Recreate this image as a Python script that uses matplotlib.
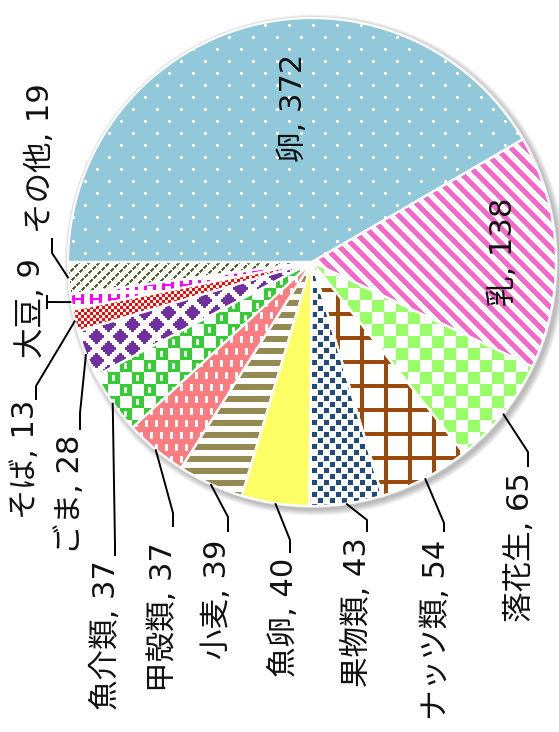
import numpy as np
import matplotlib
matplotlib.use("Agg")
import matplotlib.pyplot as plt
from matplotlib.patches import Circle
from matplotlib.colors import to_rgb

# Latin digits from DejaVu, kana/kanji from Noto Sans CJK JP
plt.rcParams["font.family"] = ["DejaVu Sans", "Noto Sans CJK JP"]

# allergen categories and case counts
categories = ["卵", "乳", "落花生", "ナッツ類", "果物類", "魚卵", "小麦",
              "甲殻類", "魚介類", "ごま", "そば", "大豆", "その他"]
counts = [372, 138, 65, 54, 43, 40, 39, 37, 37, 28, 13, 9, 19]

W, H = 559, 732
CX, CY, R = 312, 262, 244
FS = 22

fig = plt.figure(figsize=(W / 100, H / 100), dpi=100)
ax = fig.add_axes([0, 0, 1, 1])

# soft drop shadow and rim behind the pie
for k in range(8):
    ax.add_patch(Circle((CX + 3, CY + 3), R + 1 + k * 0.8, facecolor="black",
                        edgecolor="none", alpha=0.035, zorder=0))
ax.add_patch(Circle((CX, CY), R + 1, facecolor="white", edgecolor="#DADADA",
                    linewidth=1.2, zorder=0.5))

wedges, _ = ax.pie(counts, center=(CX, CY), radius=R, startangle=180,
                   counterclock=True,
                   wedgeprops=dict(edgecolor="white", linewidth=1.6))

# fill patterns, built on the pixel grid (x right, y down)
Y, X = np.mgrid[0:H, 0:W]


def paint(mask, fg, bg="white"):
    fg, bg = np.array(to_rgb(fg)), np.array(to_rgb(bg))
    return np.where(mask[..., None], fg, bg)


def diamonds():
    m = np.zeros_like(X, dtype=bool)
    for ox, oy in ((0, 0), (12, 12)):
        dx = np.abs(((X - ox + 12) % 24) - 12)
        dy = np.abs(((Y - oy + 12) % 24) - 12)
        m |= (dx // 2 + dy // 2) <= 3
    return m


def h_marks():
    lx, ly = X % 18, Y % 14
    bars = ((lx < 3) | ((lx >= 9) & (lx < 12))) & (ly < 10)
    cross = (ly >= 4) & (ly < 6) & (lx < 12)
    return bars | cross


def seafood():
    green = ((X // 12 + Y // 12) % 2) == 0
    lx, ly = X % 12, Y % 12
    notch = green & (lx >= 4) & (lx < 7) & (ly >= 3) & (ly < 9)
    return green & ~notch


patterns = [
    paint(((Y % 12) < 3) & (((X + 12 * ((Y // 12) % 2)) % 24) < 3), "white", "#92C9DA"),
    paint(((X - Y) % 15) < 7, "#FF66CC"),
    paint(((X // 12 + Y // 12) % 2) == 0, "#99FF66"),
    paint(((X % 24) < 4) | ((Y % 24) < 4), "#9A4A0A"),
    paint((((X % 12) < 5) & ((Y % 12) < 5)) |
          ((((X + 6) % 12) < 5) & (((Y + 6) % 12) < 5)), "#1F4A7E"),
    paint(np.zeros_like(X, dtype=bool), "#FFFF66", "#FFFF66"),
    paint((Y % 12) < 6, "#968A54"),
    paint((((X + 5 * ((Y // 12) % 2)) % 10) < 3) & ((Y % 12) < 7), "white", "#FF7C80"),
    paint(seafood(), "#33CC33"),
    paint(diamonds(), "#7030A0"),
    paint(((X // 3 + Y // 3) % 2) == 0, "#FF0000"),
    paint(h_marks(), "#FF00FF"),
    paint((((X + Y) % 10) < 3) & (((X - Y) % 8) < 6), "#4F6228"),
]

for w, pat in zip(wedges, patterns):
    im = ax.imshow(pat, extent=(0, W, H, 0), origin="upper",
                   interpolation="nearest", zorder=1)
    im.set_clip_path(w)
    w.set_facecolor("none")
    w.set_zorder(2)

# label placement: inside labels by centre, outside labels by leader path
inside_pos = {"卵": (293, 108), "乳": (503, 252)}
outside_layout = {
    # name: (text anchor, ha, leader elbow, leader end)
    "落花生": ((520, 472), "right", (528, 452), (528, 467)),
    "ナッツ類": ((436, 540), "right", (444, 523), (444, 532)),
    "果物類": ((357, 537), "right", (367, 520), (367, 532)),
    "魚卵": ((284, 558), "right", (290, 540), (290, 553)),
    "小麦": ((217, 540), "right", (228, 517), (228, 532)),
    "甲殻類": ((163, 542), "right", (173, 513), (173, 527)),
    "魚介類": ((106, 560), "right", (115, 545), (115, 556)),
    "ごま": ((70, 435), "right", (80, 413), (80, 430)),
    "そば": ((26, 400), "right", (36, 386), (36, 400)),
    "大豆": ((31, 308), "center", (47, 302), (47, 302)),
    "その他": ((40, 233), "left", (52, 253), (52, 238)),
}

for w, name, n in zip(wedges, categories, counts):
    label = f"{name}, {n}"
    if name in inside_pos:
        x, y = inside_pos[name]
        ax.text(x, y, label, rotation=90, rotation_mode="anchor",
                ha="center", va="center", fontsize=FS, color="#111111", zorder=5)
        continue
    (tx, ty), ha, elbow, end = outside_layout[name]
    mid = np.deg2rad((w.theta1 + w.theta2) / 2)
    sx, sy = CX + R * np.cos(mid), CY + R * np.sin(mid)
    ax.plot([sx, elbow[0], end[0]], [sy, elbow[1], end[1]], color="black",
            linewidth=1.4, solid_capstyle="butt", zorder=4)
    if name == "大豆":
        ax.plot([end[0], end[0]], [end[1] - 6, end[1] + 6], color="black",
                linewidth=1.4, zorder=4)
    ax.text(tx, ty, label, rotation=90, rotation_mode="anchor",
            ha=ha, va="center", fontsize=FS, color="#111111", zorder=5)

ax.set_xlim(0, W)
ax.set_ylim(H, 0)
ax.set_aspect("equal")
ax.axis("off")

fig.savefig("out.png", dpi=100)
